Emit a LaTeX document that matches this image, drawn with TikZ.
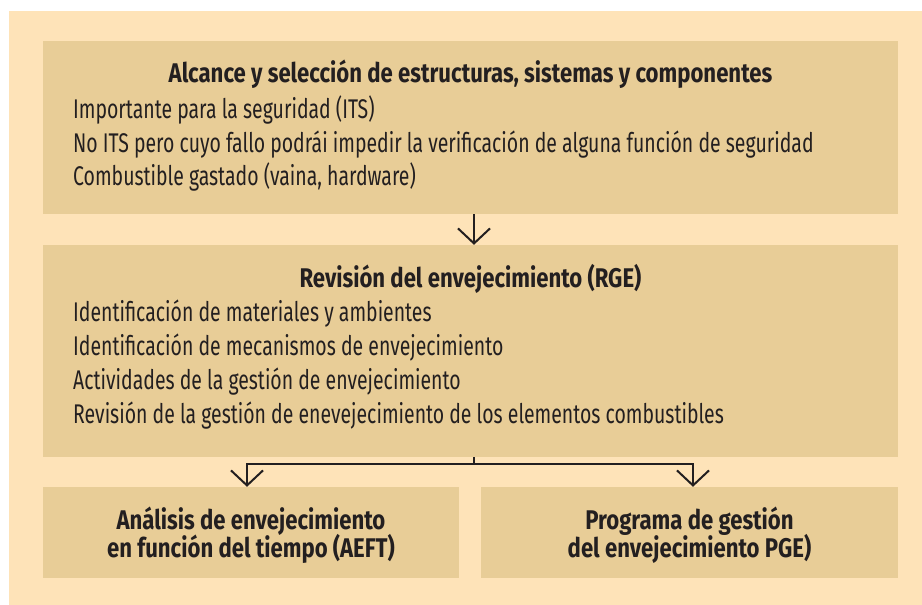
\documentclass[tikz,border=0pt]{standalone}
\usepackage{fontspec}
\setmainfont{Fira Sans}[FakeStretch=0.72, BoldFeatures={FakeStretch=0.82}]
\usetikzlibrary{positioning,calc,arrows.meta}

\definecolor{pagebeige}{HTML}{FEE3B8}
\definecolor{boxbeige}{HTML}{E8CD97}
\definecolor{inkgray}{HTML}{231F20}

\begin{document}
\begin{tikzpicture}[x=1pt,y=-1pt,font=\fontsize{27}{30}\selectfont]
		\tikzstyle{box}=[fill=boxbeige, inner sep=0];
		\tikzstyle{title}=[anchor=base, inner sep=0, text=inkgray, font=\fontsize{27}{30}\selectfont\bfseries];
		\tikzstyle{item}=[anchor=base west, inner sep=0, text=inkgray];
		\tikzstyle{flow}=[draw=inkgray, line width=2pt, -{Straight Barb[length=15pt,width=32pt]}];

		\useasboundingbox (0,0) rectangle (922,605);
		\fill[white] (0,0) rectangle (922,605);
		\fill[pagebeige] (9,11) rectangle (922,605);

		\node[box, minimum width=855, minimum height=173] (scope) at (470.5,127.5) {};
		\node[box, minimum width=855, minimum height=212] (review) at (470.5,351) {};
		\node[box, minimum width=416, minimum height=91] (tlaa) at (251,532.5) {};
		\node[box, minimum width=417, minimum height=91] (amp) at (689.5,532.5) {};

		\node[title] (scope_t) at (470.5,82) {Alcance y selección de estructuras, sistemas y componentes};
		\node[item] (scope_1) at (73,118) {Importante para la seguridad (ITS)};
		\node[item] (scope_2) at (73,152) {No ITS pero cuyo fallo podrái impedir la verificación de alguna función de seguridad};
		\node[item] (scope_3) at (73,185) {Combustible gastado (vaina, hardware)};

		\node[title] (review_t) at (470.5,287) {Revisión del envejecimiento (RGE)};
		\node[item] (review_1) at (73,321) {Identificación de materiales y ambientes};
		\node[item] (review_2) at (73,355) {Identificación de mecanismos de envejecimiento};
		\node[item] (review_3) at (73,389) {Actividades de la gestión de envejecimiento};
		\node[item] (review_4) at (73,423) {Revisión de la gestión de enevejecimiento de los elementos combustibles};

		\node[title] (tlaa_1) at (251,529) {Análisis de envejecimiento};
		\node[title] (tlaa_2) at (251,557) {en función del tiempo (AEFT)};
		\node[title] (amp_1) at (689.5,529) {Programa de gestión};
		\node[title] (amp_2) at (689.5,557) {del envejecimiento PGE)};

		\coordinate (split) at ($(review.south)+(3.5,7)$);
		\draw[flow] ([xshift=3.5]scope.south) -- ([xshift=3.5]review.north);
		\draw[draw=inkgray, line width=2pt] ([xshift=3.5]review.south) -- (split);
		\draw[flow] (split) -| ([xshift=-4]tlaa.north);
		\draw[flow] (split) -| ([xshift=3.5]amp.north);
	\end{tikzpicture}
\end{document}
